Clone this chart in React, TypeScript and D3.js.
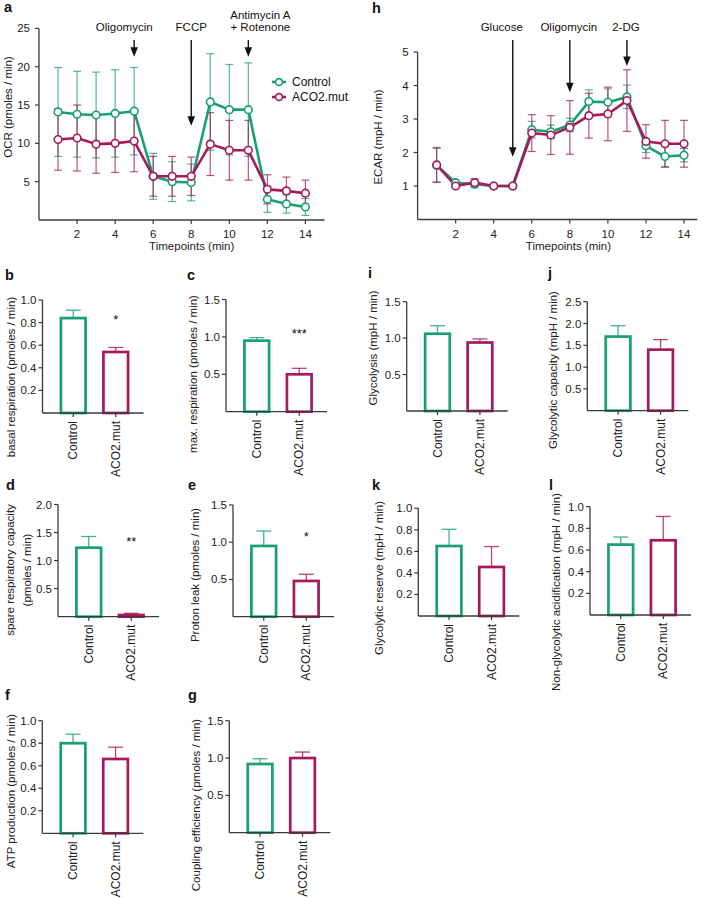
import React from "react";
import * as d3 from "d3";

const FONT = "'Liberation Sans', Arial, Helvetica, sans-serif";
const GREEN = "#17a072";
const MAGENTA = "#a8185c";
const AXIS = "#3a3a3a";

// time course data (timepoints 1..14)
const timepoints = [1, 2, 3, 4, 5, 6, 7, 8, 9, 10, 11, 12, 13, 14];
const ocrControl = [14.1, 13.8, 13.7, 13.9, 14.2, 5.7, 5.0, 4.9, 15.4, 14.4, 14.4, 2.7, 2.1, 1.7];
const ocrControlErr = [5.8, 5.6, 5.6, 5.7, 5.7, 3.0, 2.6, 2.4, 6.3, 5.9, 6.1, 1.7, 1.2, 1.1];
const ocrMut = [10.5, 10.7, 9.9, 10.0, 10.3, 5.7, 5.7, 5.7, 9.9, 9.1, 9.1, 4.0, 3.8, 3.5];
const ocrMutErr = [4.0, 4.3, 3.8, 3.8, 4.0, 2.6, 2.6, 2.5, 4.1, 3.9, 3.9, 1.9, 1.8, 1.7];
const ocrInjections = ["Oligomycin", "FCCP", "Antimycin A|+ Rotenone"];
const ocrInjectionTimes = [5, 8, 11];
const ocrArrowEnd = [21.3, 12.3, 21.3];

const ecarControl = [1.62, 1.1, 1.05, 1.0, 1.0, 2.68, 2.62, 2.82, 3.52, 3.5, 3.66, 2.2, 1.88, 1.92];
const ecarControlErr = [0.5, 0.05, 0.1, 0.03, 0.03, 0.25, 0.2, 0.2, 0.35, 0.4, 0.35, 0.2, 0.3, 0.2];
const ecarMut = [1.63, 1.0, 1.1, 1.0, 1.0, 2.58, 2.52, 2.75, 3.1, 3.15, 3.55, 2.33, 2.26, 2.26];
const ecarMutErr = [0.52, 0.05, 0.12, 0.03, 0.03, 0.55, 0.58, 0.8, 0.67, 0.8, 0.92, 0.5, 0.7, 0.7];
const ecarInjections = ["Glucose", "Oligomycin", "2-DG"];
const ecarInjectionTimes = [5, 8, 11];
const ecarArrowEnd = [1.87, 3.8, 4.58];

const xTicks = [2, 4, 6, 8, 10, 12, 14];
const ocrTicks = [5, 10, 15, 20, 25];
const ecarTicks = [1, 2, 3, 4, 5];

// bar panels
const groups = ["Control", "ACO2.mut"];
const barLetters = ["b", "c", "d", "e", "f", "g", "i", "j", "k", "l"];
const barTitles = [
  "basal respiration (pmoles / min)",
  "max. respiration (pmoles / min)",
  "spare respiratory capacity|(pmoles / min)",
  "Proton leak (pmoles / min)",
  "ATP production (pmoles / min)",
  "Coupling efficiency (pmoles / min)",
  "Glycolysis (mpH / min)",
  "Glycolytic capacity (mpH / min)",
  "Glycolytic reserve (mpH / min)",
  "Non-glycolytic acidification (mpH / min)",
];
const controlMeans = [0.84, 0.95, 1.23, 0.95, 0.8, 0.92, 1.06, 1.7, 0.65, 0.65];
const controlErr = [0.07, 0.04, 0.2, 0.2, 0.08, 0.07, 0.11, 0.25, 0.155, 0.07];
const mutMeans = [0.54, 0.5, 0.03, 0.48, 0.66, 1.0, 0.94, 1.4, 0.455, 0.69];
const mutErr = [0.04, 0.08, 0.03, 0.09, 0.105, 0.08, 0.05, 0.23, 0.19, 0.22];
const barMax = [1.0, 1.5, 2.0, 1.5, 1.0, 1.5, 1.5, 2.5, 1.0, 1.0];
const barStep = [0.2, 0.5, 0.5, 0.5, 0.2, 0.5, 0.5, 0.5, 0.2, 0.2];
const stars = ["*", "***", "**", "*", "", "", "", "", "", ""];
const starLevel = [0.85, 1.09, 1.4, 1.12, 0, 0, 0, 0, 0, 0];

// panel placement (pixels)
const barLayout = [
  { ax: 42.5, top: 300, bot: 413, lx: 5, ly: 280, tx: 11, ty: 377 },
  { ax: 226, top: 299.5, bot: 411.7, lx: 187, ly: 280, tx: 193, ty: 374 },
  { ax: 58, top: 504.5, bot: 616.7, lx: 6, ly: 490, tx: 10, ty: 570 },
  { ax: 233, top: 505, bot: 616.7, lx: 188, ly: 490, tx: 195, ty: 575 },
  { ax: 42.3, top: 720.7, bot: 833.3, lx: 5, ly: 700, tx: 11, ty: 791 },
  { ax: 229.3, top: 720.7, bot: 832.7, lx: 188, ly: 700, tx: 195.5, ty: 805 },
  { ax: 406.7, top: 301.7, bot: 411, lx: 368, ly: 278, tx: 373, ty: 348 },
  { ax: 587.3, top: 301.7, bot: 410.7, lx: 548, ly: 278, tx: 553, ty: 370 },
  { ax: 418.3, top: 508.3, bot: 616, lx: 372, ly: 490, tx: 379, ty: 578 },
  { ax: 590, top: 506.7, bot: 615, lx: 549, ly: 490, tx: 556, ty: 592 },
];

const fmt = d3.format(".1f");

function Arrow({ x, y1, y2 }: { x: number; y1: number; y2: number }) {
  return (
    <g>
      <line x1={x} x2={x} y1={y1} y2={y2 - 8} stroke="#111" strokeWidth={1.4} />
      <path d={`M${x - 3.8},${y2 - 9.5}L${x + 3.8},${y2 - 9.5}L${x},${y2}Z`} fill="#111" />
    </g>
  );
}

function Series({ x, y, means, color }: any) {
  const line = d3
    .line<number>()
    .x((_, i) => x(timepoints[i]))
    .y((d) => y(d));
  return <path d={line(means) || ""} fill="none" stroke={color} strokeWidth={2.6} strokeLinejoin="round" />;
}

function ErrBars({ x, y, means, errs, color }: any) {
  return (
    <g stroke={color} strokeOpacity={0.75} strokeWidth={1.2}>
      {means.map((m: number, i: number) => {
        const cx = x(timepoints[i]);
        const t = y(m + errs[i]);
        const b = y(m - errs[i]);
        return (
          <g key={i}>
            <line x1={cx} x2={cx} y1={t} y2={b} />
            <line x1={cx - 4} x2={cx + 4} y1={t} y2={t} />
            <line x1={cx - 4} x2={cx + 4} y1={b} y2={b} />
          </g>
        );
      })}
    </g>
  );
}

function Markers({ x, y, means, color }: any) {
  return (
    <g>
      {means.map((m: number, i: number) => (
        <circle key={i} cx={x(timepoints[i])} cy={y(m)} r={3.8} fill="white" stroke={color} strokeWidth={1.6} />
      ))}
    </g>
  );
}

function TimeCourse({ cfg }: any) {
  const x = d3.scaleLinear().domain([0, cfg.xMax]).range([cfg.left, cfg.left + cfg.xMax * 19.03]);
  const y = d3.scaleLinear().domain([0, cfg.yMax]).range([cfg.bottom, cfg.top]);
  const [x0, x1] = x.range();
  return (
    <g>
      <text x={cfg.lx} y={cfg.ly} fontSize={14.5} fontWeight="bold" fill="#111">{cfg.letter}</text>
      {/* axes */}
      <line x1={x0} x2={x0} y1={cfg.bottom} y2={cfg.top} stroke={AXIS} strokeWidth={1.3} />
      <line x1={x0} x2={x1} y1={cfg.bottom} y2={cfg.bottom} stroke={AXIS} strokeWidth={1.3} />
      {cfg.yTicks.map((t: number) => (
        <g key={t}>
          <line x1={x0 - 4} x2={x0} y1={y(t)} y2={y(t)} stroke={AXIS} strokeWidth={1.2} />
          <text x={x0 - 9} y={y(t)} dy="0.35em" textAnchor="end" fontSize={11.5} fill="#222">{t}</text>
        </g>
      ))}
      {xTicks.map((t) => (
        <g key={t}>
          <line x1={x(t)} x2={x(t)} y1={cfg.bottom} y2={cfg.bottom + 4} stroke={AXIS} strokeWidth={1.2} />
          <text x={x(t)} y={cfg.bottom + 18} textAnchor="middle" fontSize={11.5} fill="#222">{t}</text>
        </g>
      ))}
      <text x={(x0 + x1) / 2 + cfg.xlabelDx} y={cfg.bottom + 30} textAnchor="middle" fontSize={11.5} fill="#222">Timepoints (min)</text>
      <text transform={`translate(${cfg.ylx},${cfg.yly}) rotate(-90)`} dy="0.35em" textAnchor="middle" fontSize={11.5} fill="#222">{cfg.ylabel}</text>
      {/* injections */}
      {cfg.injections.map((lab: string, i: number) => {
        const ax = x(cfg.times[i]);
        const parts = lab.split("|");
        return (
          <g key={i}>
            <Arrow x={ax} y1={40} y2={y(cfg.arrowEnd[i])} />
            {parts.map((p, j) => (
              <text key={j} x={ax + cfg.labelDx[i]} y={31 - (parts.length - 1 - j) * 12.5} textAnchor="middle" fontSize={11.5} fill="#111">{p}</text>
            ))}
          </g>
        );
      })}
      <ErrBars x={x} y={y} means={cfg.control} errs={cfg.controlErr} color={GREEN} />
      <ErrBars x={x} y={y} means={cfg.mut} errs={cfg.mutErr} color={MAGENTA} />
      <Series x={x} y={y} means={cfg.control} color={GREEN} />
      <Series x={x} y={y} means={cfg.mut} color={MAGENTA} />
      <Markers x={x} y={y} means={cfg.control} color={GREEN} />
      <Markers x={x} y={y} means={cfg.mut} color={MAGENTA} />
    </g>
  );
}

function Legend() {
  const items = [
    { name: groups[0], color: GREEN },
    { name: groups[1], color: MAGENTA },
  ];
  return (
    <g>
      {items.map((it, i) => (
        <g key={i} transform={`translate(279,${82 + i * 15})`}>
          <line x1={-7} x2={7} y1={0} y2={0} stroke={it.color} strokeWidth={2.6} />
          <circle r={3.4} fill="white" stroke={it.color} strokeWidth={1.6} />
          <text x={13} dy="0.35em" fontSize={12} fill="#111">{it.name}</text>
        </g>
      ))}
    </g>
  );
}

function BarPanel({ i }: { i: number }) {
  const L = barLayout[i];
  const y = d3.scaleLinear().domain([0, barMax[i]]).range([L.bot, L.top]);
  const x = d3.scaleBand().domain(groups).range([L.ax + 9.5, L.ax + 94.5]).paddingInner(0.42).paddingOuter(0.21);
  const ticks = d3.range(barStep[i], barMax[i] + 1e-9, barStep[i]);
  const means = [controlMeans[i], mutMeans[i]];
  const errs = [controlErr[i], mutErr[i]];
  const colors = [GREEN, MAGENTA];
  const title = barTitles[i].split("|");
  return (
    <g>
      <text x={L.lx} y={L.ly} fontSize={14.5} fontWeight="bold" fill="#111">{barLetters[i]}</text>
      {title.map((t, j) => (
        <text
          key={j}
          transform={`translate(${L.tx + j * 17},${L.ty}) rotate(-90)`}
          dy="0.35em"
          textAnchor="middle"
          fontSize={11.5}
          fill="#222"
        >
          {t}
        </text>
      ))}
      {ticks.map((t) => (
        <g key={t}>
          <line x1={L.ax - 4} x2={L.ax} y1={y(t)} y2={y(t)} stroke={AXIS} strokeWidth={1.2} />
          <text x={L.ax - 6} y={y(t)} dy="0.35em" textAnchor="end" fontSize={11.5} fill="#222">{fmt(t)}</text>
        </g>
      ))}
      {groups.map((g, k) => {
        const bx = x(g) as number;
        const bw = x.bandwidth();
        const cx = bx + bw / 2;
        const top = y(means[k]);
        const et = y(means[k] + errs[k]);
        return (
          <g key={g}>
            <line x1={cx} x2={cx} y1={top} y2={et} stroke={colors[k]} strokeOpacity={0.8} strokeWidth={1.3} />
            <line x1={cx - 7.5} x2={cx + 7.5} y1={et} y2={et} stroke={colors[k]} strokeOpacity={0.8} strokeWidth={1.3} />
            <rect x={bx} y={top} width={bw} height={y(0) - top} fill="white" stroke={colors[k]} strokeWidth={2.7} />
            <line x1={cx} x2={cx} y1={L.bot} y2={L.bot + 4} stroke={AXIS} strokeWidth={1.2} />
            <text
              transform={`translate(${cx},${L.bot + 8}) rotate(-90)`}
              dy="0.35em"
              textAnchor="end"
              fontSize={12}
              fill="#222"
            >
              {g}
            </text>
          </g>
        );
      })}
      <line x1={L.ax} x2={L.ax} y1={L.top} y2={L.bot} stroke={AXIS} strokeWidth={1.3} />
      <line x1={L.ax} x2={L.ax + 101} y1={L.bot} y2={L.bot} stroke={AXIS} strokeWidth={1.3} />
      {stars[i] && (
        <text x={(x(groups[1]) as number) + x.bandwidth() / 2} y={y(starLevel[i]) + 7.5} textAnchor="middle" fontSize={13} fill="#111">
          {stars[i]}
        </text>
      )}
    </g>
  );
}

const ocrCfg = {
  letter: "a", lx: 4, ly: 12, left: 39, xMax: 15, top: 28.4, bottom: 220, yMax: 25, yTicks: ocrTicks,
  ylabel: "OCR (pmoles / min)", ylx: 8, yly: 107, xlabelDx: 10,
  injections: ocrInjections, times: ocrInjectionTimes, arrowEnd: ocrArrowEnd, labelDx: [-10, 0, 12],
  control: ocrControl, controlErr: ocrControlErr, mut: ocrMut, mutErr: ocrMutErr,
};

const ecarCfg = {
  letter: "h", lx: 372, ly: 13, left: 417.6, xMax: 14.7, top: 52, bottom: 219.5, yMax: 5, yTicks: ecarTicks,
  ylabel: "ECAR (mpH / min)", ylx: 378, yly: 137, xlabelDx: 11,
  injections: ecarInjections, times: ecarInjectionTimes, arrowEnd: ecarArrowEnd, labelDx: [-11, -1, -1],
  control: ecarControl, controlErr: ecarControlErr, mut: ecarMut, mutErr: ecarMutErr,
};

export default function App() {
  return (
    <svg
      width={704}
      height={898}
      style={{ position: "absolute", left: 0, top: 0, background: "white" }}
      fontFamily={FONT}
    >
      <TimeCourse cfg={ocrCfg} />
      <Legend />
      <TimeCourse cfg={ecarCfg} />
      {barLetters.map((_, i) => (
        <BarPanel key={i} i={i} />
      ))}
    </svg>
  );
}
